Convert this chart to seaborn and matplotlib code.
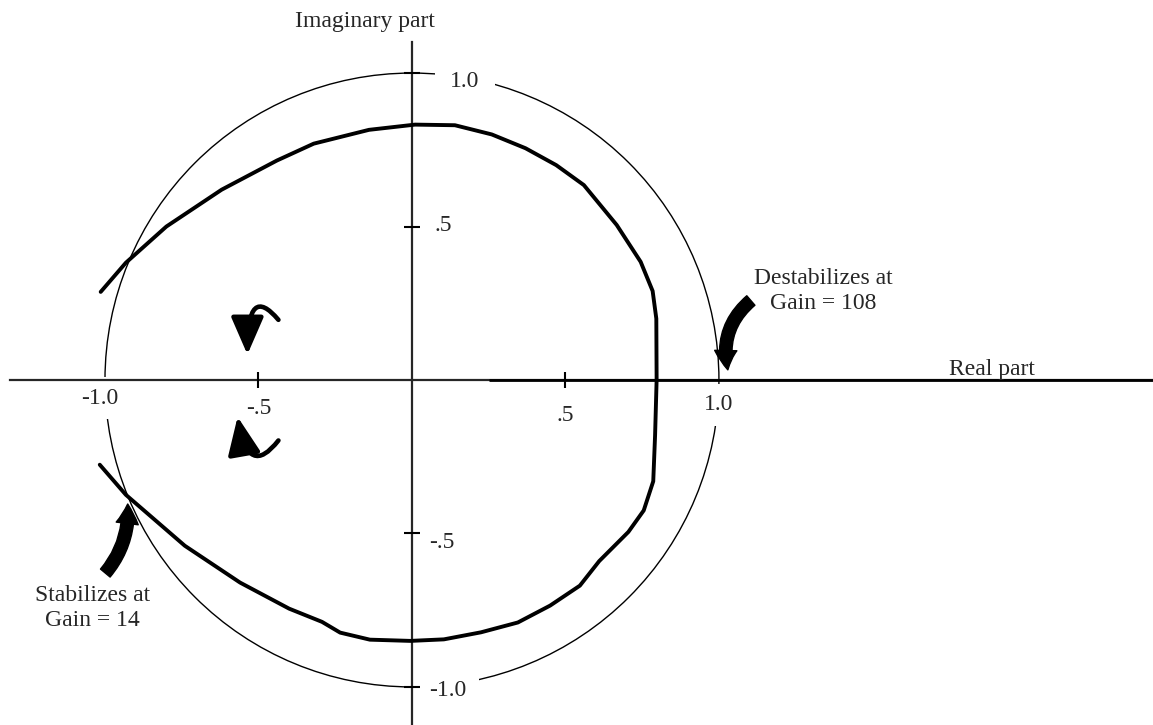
import matplotlib
matplotlib.use("Agg")
import matplotlib.pyplot as plt
import seaborn as sns
from matplotlib.patches import Circle, FancyArrowPatch

# root locus branch (real part, imaginary part), traced from upper-left end clockwise
locus_re = [-1.014, -0.932, -0.80, -0.62, -0.44, -0.32, -0.14, 0.01, 0.14, 0.26,
            0.37, 0.47, 0.56, 0.667, 0.745, 0.784, 0.796, 0.797, 0.792, 0.786,
            0.755, 0.705, 0.61, 0.547, 0.45, 0.345, 0.225, 0.104, -0.005, -0.137,
            -0.234, -0.293, -0.40, -0.56, -0.74, -0.932, -1.017]
locus_im = [0.287, 0.382, 0.50, 0.62, 0.715, 0.77, 0.815, 0.832, 0.830, 0.80,
            0.755, 0.70, 0.635, 0.505, 0.385, 0.29, 0.20, 0.0, -0.18, -0.33,
            -0.425, -0.495, -0.59, -0.67, -0.735, -0.79, -0.822, -0.845, -0.85, -0.846,
            -0.823, -0.788, -0.745, -0.66, -0.54, -0.374, -0.276]

# part of the locus lying on the real axis
real_seg = [0.25, 2.42]

x_ticks = [-0.5, 0.5]
y_ticks = [-1.0, -0.5, 0.5, 1.0]
x_labels = {"-1.0": (-1.016, -0.059), "-.5": (-0.498, -0.094),
            ".5": (0.498, -0.117), "1.0": (1.0, -0.081)}
y_labels = {"1.0": (0.173, 0.974), ".5": (0.075, 0.502),
            "-.5": (0.055, -0.53), "-1.0": (0.055, -1.013)}

sns.set_style("white")
plt.rcParams['font.family'] = ['Liberation Serif', 'DejaVu Serif']

fig = plt.figure(figsize=(11.53, 7.25), dpi=100)
ax = fig.add_axes([0, 0, 1, 1])
ax.set_xlim(-1.342, 2.414)
ax.set_ylim(-1.124, 1.238)
ax.set_axisbelow(False)

# axes through the origin
for s in ['top', 'right']:
    ax.spines[s].set_visible(False)
ax.spines['left'].set_position(('data', 0))
ax.spines['bottom'].set_position(('data', 0))
ax.spines['left'].set_bounds(-1.124, 1.10)
ax.spines['bottom'].set_bounds(-1.31, 2.414)
ax.spines['left'].set_linewidth(1.6)
ax.spines['bottom'].set_linewidth(1.6)
ax.set_xticks(x_ticks)
ax.set_yticks(y_ticks)
ax.set_xticklabels([])
ax.set_yticklabels([])
ax.tick_params(bottom=True, left=True, direction='inout', length=12, width=1.5,
               color='black')

# unit circle
ax.add_patch(Circle((0, 0), 1.0, fill=False, lw=1.0, color='black', zorder=1))

# locus
sns.lineplot(x=locus_re, y=locus_im, sort=False, estimator=None, color='black',
             lw=2.8, ax=ax, zorder=3)
ax.plot(real_seg, [0, 0], color='black', lw=2.0, zorder=3, solid_capstyle='butt')

# tick labels (white boxes cut the circle as in the original)
box = dict(boxstyle='square,pad=0.45', fc='white', ec='none')
for t, (x, y) in x_labels.items():
    ax.text(x, y, t, ha='center', va='center', fontsize=17, bbox=box, zorder=2)
ax.text(*y_labels["1.0"], "1.0", ha='center', va='center', fontsize=17,
        bbox=dict(boxstyle='square,pad=0.65', fc='white', ec='none'), zorder=2)
for t in [".5", "-.5"]:
    ax.text(*y_labels[t], t, ha='left', va='center', fontsize=17, zorder=2)
ax.text(*y_labels["-1.0"], "-1.0", ha='left', va='center', fontsize=17,
        bbox=dict(boxstyle='square,pad=0.55', fc='white', ec='none'), zorder=2)

# axis titles
ax.text(-0.153, 1.169, "Imaginary part", ha='center', va='center', fontsize=17)
ax.text(1.889, 0.033, "Real part", ha='center', va='center', fontsize=17)

# annotations
ax.text(1.34, 0.29, "Destabilizes at\nGain = 108", ha='center', va='center',
        fontsize=17, linespacing=1.3)
ax.text(-1.042, -0.743, "Stabilizes at\nGain = 14", ha='center', va='center',
        fontsize=17, linespacing=1.3)

# direction-of-travel arrows
ax.add_patch(FancyArrowPatch((-0.435, 0.196), (-0.536, 0.083),
                             connectionstyle='angle3,angleA=130,angleB=90',
                             arrowstyle='-|>,head_length=1.15,head_width=0.5',
                             mutation_scale=20, lw=3.3, color='black',
                             shrinkA=0, shrinkB=0, zorder=3))
ax.add_patch(FancyArrowPatch((-0.435, -0.197), (-0.568, -0.12),
                             connectionstyle='angle3,angleA=232,angleB=100',
                             arrowstyle='-|>,head_length=1.15,head_width=0.5',
                             mutation_scale=20, lw=3.3, color='black',
                             shrinkA=0, shrinkB=0, zorder=3))

# gain call-out arrows
ax.add_patch(FancyArrowPatch((1.104, 0.259), (1.029, 0.033),
                             connectionstyle='arc3,rad=0.3',
                             arrowstyle='simple,head_length=0.7,head_width=0.8,tail_width=0.45',
                             mutation_scale=20, color='black', shrinkA=0, shrinkB=0,
                             zorder=3))
ax.add_patch(FancyArrowPatch((-0.999, -0.629), (-0.926, -0.404),
                             connectionstyle='arc3,rad=0.2',
                             arrowstyle='simple,head_length=0.7,head_width=0.8,tail_width=0.45',
                             mutation_scale=20, color='black', shrinkA=0, shrinkB=0,
                             zorder=3))

fig.savefig("out.png", dpi=100, facecolor='white')
